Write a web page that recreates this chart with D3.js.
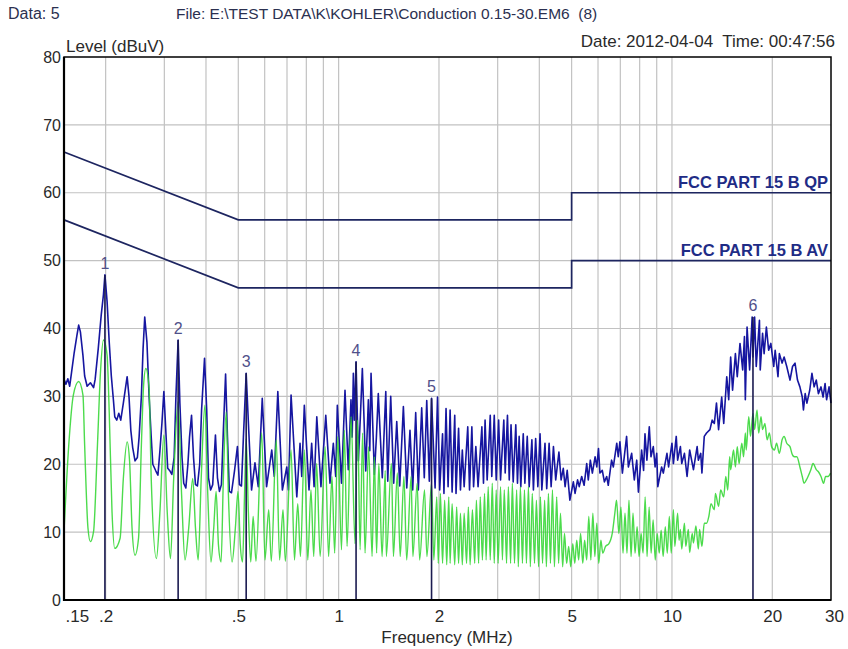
<!DOCTYPE html>
<html>
<head>
<meta charset="utf-8">
<script src="https://cdn.jsdelivr.net/npm/d3@7"></script>
<style>
	body { margin: 0; background: #fff; }
	svg { display: block; }
</style>
</head>
<body>
<div id="viz"></div>
<script>

//chart data
let levelTicks = [0, 10, 20, 30, 40, 50, 60, 70, 80]
let freqTicks = [0.15, 0.2, 0.5, 1, 2, 5, 10, 20, 30]
let freqTickLabels = ['.15', '.2', '.5', '1', '2', '5', '10', '20', '30']
let gridFreqs = [0.2, 0.3, 0.4, 0.5, 0.6, 0.7, 0.8, 0.9, 1, 2, 3, 4, 5, 6, 7, 8, 9, 10, 20]
let gridLevels = [10, 20, 30, 40, 50, 60, 70]

//limit lines [MHz, dBuV]
let qpLimit = [[0.15, 66], [0.5, 56], [5, 56], [5, 60], [30, 60]]
let avLimit = [[0.15, 56], [0.5, 46], [5, 46], [5, 50], [30, 50]]

//peak trace (blue) [MHz, dBuV]
let peakTrace = [
	[0.150,32.5],[0.152,31.8],[0.154,32.6],[0.156,31.5],[0.158,33.5],[0.161,36.5],[0.164,39.0],[0.166,40.5],[0.168,39.5],[0.171,36.0],
	[0.173,33.0],[0.176,31.5],[0.180,32.0],[0.184,31.3],[0.186,32.5],[0.190,37.0],[0.194,42.0],[0.197,45.0],[0.199,47.9],[0.202,44.0],
	[0.205,38.0],[0.208,33.0],[0.211,29.5],[0.213,27.0],[0.216,26.5],[0.219,27.5],[0.222,26.5],[0.226,29.0],[0.232,32.9],[0.235,30.0],
	[0.238,25.0],[0.241,22.5],[0.245,20.5],[0.249,21.0],[0.252,24.0],[0.256,30.0],[0.259,37.0],[0.262,41.7],[0.266,38.0],[0.270,30.0],
	[0.274,24.0],[0.277,20.0],[0.283,19.0],[0.287,18.4],[0.291,22.0],[0.295,26.0],[0.299,30.7],[0.303,25.0],[0.307,19.4],[0.312,19.0],
	[0.316,18.5],[0.321,21.0],[0.325,30.0],[0.330,38.3],[0.334,29.0],[0.339,21.0],[0.343,17.2],[0.348,16.5],[0.353,20.0],[0.357,24.0],
	[0.362,27.2],[0.367,21.0],[0.372,17.0],[0.377,16.8],[0.383,20.0],[0.388,28.0],[0.396,35.6],[0.402,28.0],[0.407,18.0],[0.413,16.2],
	[0.419,17.0],[0.427,24.3],[0.433,18.0],[0.439,16.0],[0.445,17.0],[0.451,25.0],[0.458,33.3],[0.464,24.0],[0.470,16.0],[0.477,15.8],
	[0.487,19.0],[0.497,22.6],[0.504,17.0],[0.511,16.8],[0.518,24.0],[0.528,33.4],
	[0.538,24.5],[0.548,16.2],[0.561,20.2],[0.574,16.7],[0.590,29.7],[0.608,16.7],[0.630,22.1],[0.641,18.2],[0.657,30.7],[0.678,16.2],
	[0.699,19.6],[0.707,16.2],[0.720,30.2],[0.749,15.2],[0.766,23.1],[0.775,18.2],[0.789,28.7],[0.815,16.2],[0.830,23.1],[0.844,16.7],
	[0.860,27.0],[0.885,16.7],[0.915,27.2],[0.942,17.2],[0.964,23.1],[0.980,18.2],[0.991,28.7],[1.02,17.2],[1.045,30.9],[1.069,19.2],
	[1.089,29.5],[1.098,24.0],[1.107,33.4],[1.115,26.5],[1.128,35.1],[1.146,20.5],[1.162,27.0],[1.178,34.1],[1.206,19.0],[1.228,29.5],
	[1.240,22.0],[1.251,33.4],[1.280,18.5],[1.298,24.0],[1.315,30.4],[1.352,18.0],[1.385,30.7],[1.404,17.5],[1.433,30.0],[1.463,17.2],
	[1.494,26.3],[1.525,16.8],[1.564,28.5],[1.601,16.5],[1.637,25.0],[1.668,16.2],[1.703,27.6],[1.734,16.2],[1.775,28.3],[1.807,18.0],
	[1.838,29.4],[1.871,17.5],[1.90,29.7],[1.947,16.5],
	[1.98,29.9],[2.01,16.2],[2.05,24.5],[2.07,15.7],[2.10,28.2],[2.13,16.7],[2.16,28.0],[2.19,15.9],[2.23,27.2],[2.25,15.7],
	[2.29,25.3],[2.32,16.2],[2.35,22.1],[2.38,16.7],[2.44,25.5],[2.47,16.2],[2.51,25.5],[2.54,16.7],[2.58,22.6],[2.62,16.7],
	[2.69,25.5],[2.72,17.2],[2.75,26.5],[2.79,17.7],[2.85,27.2],[2.88,18.2],[2.93,27.2],[2.97,17.7],[3.02,26.5],[3.06,17.7],
	[3.13,26.5],[3.16,18.7],[3.21,27.2],[3.25,17.7],[3.29,25.8],[3.34,17.4],[3.40,25.8],[3.44,17.2],[3.48,24.1],[3.52,16.7],
	[3.58,24.5],[3.62,17.2],[3.68,24.1],[3.73,16.7],[3.80,23.6],[3.84,16.2],[3.90,23.8],[3.96,16.7],[4.02,24.5],[4.07,16.2],
	[4.16,23.1],[4.21,16.4],[4.28,23.1],[4.34,16.7],[4.41,22.6],[4.48,17.7],[4.58,21.8],[4.65,17.7],[4.72,19.4],[4.78,16.7],
	[4.85,19.1],[4.94,14.7],[5.06,17.4],[5.12,15.7],[5.21,17.7],[5.27,16.7],[5.36,18.2],[5.45,16.9],[5.55,20.1],[5.61,17.7],
	[5.69,20.6],[5.77,18.7],[5.88,21.1],[5.95,19.6],[6.02,22.3],[6.08,18.7],[6.18,19.1],[6.27,17.4],[6.37,18.2],[6.44,16.9],
	[6.59,20.6],[6.67,19.6],[6.83,23.1],[6.90,21.1],[6.98,23.3],[7.10,18.7],[7.31,24.1],[7.40,19.6],[7.57,21.6],[7.71,17.7],
	[7.84,20.6],[7.93,15.9],[8.11,22.1],[8.22,19.1],[8.30,24.5],[8.41,20.6],[8.55,25.5],[8.65,21.1],[8.79,22.6],[8.90,19.6],
	[9.00,21.6],[9.07,16.7],[9.31,19.6],[9.42,18.7],[9.66,21.6],[9.77,19.6],[10.0,23.1],[10.1,20.1],[10.3,24.1],[10.4,20.6],
	[10.6,22.6],[10.7,20.1],[10.9,21.6],[11.1,18.2],[11.3,22.1],[11.6,19.2],[11.9,22.6],[12.0,20.6],[12.2,21.6],[12.3,18.7],
	[12.5,24.1],[12.7,24.6],[13.0,25.1],[13.2,26.5],[13.4,26.0],[13.6,29.0],[13.8,25.1],[14.1,29.9],[14.3,26.0],[14.6,32.9],
	[14.8,29.5],[15.0,35.8],[15.2,30.9],[15.5,36.3],[15.7,32.9],[16.0,37.8],[16.3,33.9],[16.5,38.8],[16.6,29.5],[16.8,40.2],
	[17.1,33.9],[17.4,41.7],[17.5,35.8],[17.7,41.7],[17.9,34.4],[18.3,41.2],[18.4,33.9],[18.7,39.3],[18.9,36.3],[19.2,40.2],
	[19.5,36.8],[19.8,37.8],[20.2,34.4],[20.4,36.8],[20.8,32.9],[21.0,36.3],[21.4,34.9],[21.7,35.8],[22.1,34.4],[22.6,32.4],
	[23.0,34.4],[23.4,34.9],[23.8,32.4],[24.2,31.4],[24.6,29.9],[24.8,28.0],[25.1,30.4],[25.4,29.0],[25.9,30.9],[26.3,33.4],
	[26.7,31.4],[27.1,32.4],[27.5,30.4],[28.0,31.4],[28.4,29.9],[28.8,31.9],[29.1,29.5],[29.6,31.4],[30.0,29.0]
]

//average trace (green) [MHz, dBuV]
let avgTrace = [
	[0.150,10.1],[0.155,22.8],[0.160,30.2],[0.166,32.2],[0.171,30.2],[0.173,22.8],[0.177,10.6],[0.180,8.6],[0.184,10.1],[0.189,22.8],
	[0.193,33.6],[0.197,38.3],[0.202,36.1],[0.205,27.7],[0.209,13.0],[0.213,7.6],[0.221,9.1],[0.226,17.9],[0.232,23.3],[0.236,20.4],
	[0.240,10.6],[0.245,6.6],[0.251,9.1],[0.256,22.8],[0.260,31.7],[0.264,34.1],[0.270,31.2],[0.274,17.9],[0.284,6.1],[0.291,13.0],
	[0.299,24.3],[0.306,13.0],[0.313,6.1],[0.320,17.9],[0.330,29.2],[0.338,15.5],[0.346,5.9],[0.355,10.6],[0.365,17.9],[0.372,10.6],
	[0.379,5.9],[0.387,17.9],[0.397,28.7],[0.405,15.5],[0.414,5.6],[0.422,10.6],[0.429,16.0],[0.436,8.1],[0.444,5.6],[0.451,17.9],
	[0.460,27.7],[0.467,15.5],[0.479,5.6],[0.490,10.6],[0.499,16.0],[0.507,8.1],[0.515,5.6],[0.522,15.5],[0.528,23.8],[0.536,13.0],
	[0.545,5.6],
	[0.554,12.3],[0.565,5.7],[0.588,24.6],[0.601,5.9],[0.617,13.3],[0.628,5.7],[0.650,23.6],[0.665,5.9],[0.681,13.3],[0.692,5.7],
	[0.720,22.1],[0.737,5.9],[0.754,14.2],[0.768,6.4],[0.789,22.1],[0.808,5.9],[0.826,16.2],[0.842,6.4],[0.859,20.1],[0.880,6.4],
	[0.911,22.6],[0.933,6.4],[0.955,18.2],[0.973,6.9],[0.994,24.1],[1.02,7.4],[1.04,25.0],[1.06,7.9],[1.09,27.0],[1.12,8.3],
	[1.14,26.5],[1.16,7.4],[1.18,24.6],[1.20,6.9],[1.23,22.6],[1.26,6.4],[1.28,21.1],[1.30,6.9],[1.32,20.1],[1.35,6.4],
	[1.38,19.1],[1.39,6.4],[1.44,20.1],[1.46,6.4],[1.50,18.7],[1.53,6.4],[1.57,18.2],[1.60,5.9],[1.65,18.2],[1.67,6.4],
	[1.72,17.2],[1.75,5.9],[1.81,16.2],[1.84,6.4],[1.90,17.2],[1.93,5.9],
	[1.97,15.2],[1.99,5.4],[2.02,15.7],[2.05,5.4],[2.08,14.7],[2.11,5.2],[2.14,15.2],[2.16,5.4],[2.19,14.2],[2.23,5.2],
	[2.26,13.7],[2.29,5.4],[2.32,12.8],[2.35,5.2],[2.38,12.8],[2.42,5.4],[2.45,13.7],[2.48,5.2],[2.52,13.3],[2.56,5.4],
	[2.59,14.7],[2.63,5.4],[2.66,15.2],[2.70,5.9],[2.74,15.7],[2.77,5.9],[2.81,16.7],[2.85,5.9],[2.89,17.2],[2.93,5.4],
	[2.97,16.2],[3.01,5.4],[3.06,16.7],[3.10,5.9],[3.14,16.2],[3.19,5.4],[3.23,16.7],[3.28,5.4],[3.32,17.2],[3.37,5.4],
	[3.42,16.2],[3.46,4.9],[3.51,16.7],[3.56,5.4],[3.61,16.2],[3.66,5.4],[3.71,16.7],[3.76,4.9],[3.81,15.7],[3.87,5.4],
	[3.92,14.7],[3.98,4.9],[4.03,15.2],[4.09,5.4],[4.15,14.7],[4.20,4.9],[4.26,15.7],[4.32,5.4],[4.38,16.2],[4.44,4.9],
	[4.51,15.2],[4.57,5.4],[4.63,12.8],[4.70,4.9],[4.76,9.8],[4.83,5.4],[4.90,7.9],[4.97,4.9],[5.04,8.3],[5.11,5.4],
	[5.18,8.8],[5.25,5.9],[5.32,9.8],[5.40,5.4],[5.47,8.8],[5.55,5.9],[5.63,12.3],[5.71,5.9],[5.79,12.8],[5.87,6.4],
	[5.95,11.3],[6.03,5.4],[6.12,8.8],[6.20,6.9],[6.32,7.9],[6.47,8.3],[6.62,9.8],[6.74,12.8],[6.82,14.7],[6.93,9.8],
	[7.03,13.7],[7.13,6.9],[7.23,12.8],[7.33,6.9],[7.43,14.7],[7.54,6.4],[7.64,12.8],[7.75,6.9],[7.86,10.8],[7.97,6.4],
	[8.08,9.8],[8.19,6.9],[8.31,15.2],[8.42,6.4],[8.54,13.7],[8.66,6.9],[8.78,11.8],[8.91,5.9],[9.03,9.8],[9.16,6.9],
	[9.28,10.3],[9.41,6.4],[9.55,10.8],[9.68,6.9],[9.82,12.3],[9.95,6.9],[10.1,13.3],[10.2,7.9],[10.4,12.8],[10.5,8.8],
	[10.6,10.4],[10.7,7.5],[10.9,11.3],[11.0,7.9],[11.2,10.4],[11.3,7.0],[11.5,9.8],[11.6,8.4],[11.8,10.9],[12.0,7.5],
	[12.1,10.4],[12.3,7.9],[12.5,11.3],[12.7,11.3],[12.9,12.3],[13.1,14.2],[13.4,13.3],[13.5,15.7],[13.8,13.8],[14.0,16.2],
	[14.3,15.2],[14.5,18.2],[14.7,16.2],[14.9,21.1],[15.0,19.2],[15.3,22.1],[15.5,19.6],[15.7,22.6],[15.9,20.1],[16.2,23.1],
	[16.4,21.1],[16.6,24.6],[16.7,22.1],[17.0,27.0],[17.2,24.1],[17.5,27.5],[17.7,25.1],[18.0,28.0],[18.2,24.6],[18.5,27.0],
	[18.7,25.1],[19.0,26.0],[19.3,23.6],[19.6,24.6],[19.9,22.6],[20.3,22.1],[20.6,23.1],[21.0,21.6],[21.4,23.6],[21.7,24.1],
	[22.1,23.1],[22.6,22.6],[22.9,21.6],[23.3,21.1],[23.7,21.1],[24.2,19.6],[24.6,18.2],[24.9,17.2],[25.3,17.7],[25.6,18.2],
	[26.1,19.2],[26.5,20.1],[27.1,19.2],[27.5,18.9],[28.0,18.2],[28.5,17.2],[28.9,18.2],[29.4,18.2],[29.9,18.7]
]

//marked peaks [MHz, dBuV]
let markers = [[0.199, 47.9], [0.330, 38.3], [0.528, 33.4], [1.128, 35.1], [1.90, 29.7], [17.5, 41.7]]

let limitNames = ['FCC PART 15 B QP', 'FCC PART 15 B AV']

//sizes
let width = 848
let height = 649
let margin = {top: 57, right: 17, bottom: 49, left: 64}
let font = "'Liberation Sans', Arial, sans-serif"

let svg = d3.select('#viz')
			.append('svg')
			.attr('width', width)
			.attr('height', height)
			.style('font-family', font)

let x = d3.scaleLog()
			.domain([0.15, 30])
			.range([margin.left, width - margin.right])

let y = d3.scaleLinear()
			.domain([0, 80])
			.range([height - margin.bottom, margin.top])

//grid
svg.append('g')
	.selectAll('line')
	.data(gridFreqs)
	.enter()
	.append('line')
	.attr('x1', d => x(d))
	.attr('x2', d => x(d))
	.attr('y1', y(0))
	.attr('y2', y(80))
	.attr('stroke', '#c2c2c2')
	.attr('stroke-width', 1.2)

svg.append('g')
	.selectAll('line')
	.data(gridLevels)
	.enter()
	.append('line')
	.attr('x1', x(0.15))
	.attr('x2', x(30))
	.attr('y1', d => y(d))
	.attr('y2', d => y(d))
	.attr('stroke', '#c2c2c2')
	.attr('stroke-width', 1.2)

let line = d3.line()
			.x(d => x(d[0]))
			.y(d => y(d[1]))

//limit lines
svg.append('g')
	.selectAll('path')
	.data([qpLimit, avLimit])
	.enter()
	.append('path')
	.attr('d', line)
	.attr('fill', 'none')
	.attr('stroke', '#1d2560')
	.attr('stroke-width', 1.7)

//traces
svg.append('path')
	.datum(peakTrace)
	.attr('d', line)
	.attr('fill', 'none')
	.attr('stroke', '#1616a0')
	.attr('stroke-width', 1.6)
	.attr('stroke-linejoin', 'round')

svg.append('path')
	.datum(avgTrace)
	.attr('d', line.curve(d3.curveMonotoneX))
	.attr('fill', 'none')
	.attr('stroke', '#33d633')
	.attr('stroke-width', 1.4)
	.attr('opacity', 0.88)

line.curve(d3.curveLinear)

//marker lines and numbers
svg.append('g')
	.selectAll('line')
	.data(markers)
	.enter()
	.append('line')
	.attr('x1', d => x(d[0]))
	.attr('x2', d => x(d[0]))
	.attr('y1', y(0))
	.attr('y2', d => y(d[1]))
	.attr('stroke', '#1b1b50')
	.attr('stroke-width', 1.6)

svg.append('g')
	.selectAll('text')
	.data(markers)
	.enter()
	.append('text')
	.attr('x', d => x(d[0]))
	.attr('y', d => y(d[1]) - 6)
	.attr('text-anchor', 'middle')
	.attr('font-size', 16)
	.attr('fill', '#50508a')
	.text((d, i) => i + 1)

//limit labels
svg.append('g')
	.selectAll('text')
	.data([qpLimit, avLimit])
	.enter()
	.append('text')
	.attr('x', x(30) - 3)
	.attr('y', d => y(d[d.length - 1][1]) - 5)
	.attr('text-anchor', 'end')
	.attr('font-size', 16.5)
	.attr('font-weight', 'bold')
	.attr('fill', '#1f2c86')
	.text((d, i) => limitNames[i])

//frame
svg.append('rect')
	.attr('x', x(0.15))
	.attr('y', y(80))
	.attr('width', x(30) - x(0.15))
	.attr('height', y(0) - y(80))
	.attr('fill', 'none')
	.attr('stroke', '#000')
	.attr('stroke-width', 1.5)

svg.append('path')
	.attr('d', `M${x(0.15)},${y(80)}V${y(0)}H${x(30)}`)
	.attr('fill', 'none')
	.attr('stroke', '#000')
	.attr('stroke-width', 2.2)

//axes
let yAxis = svg.append('g')
				.attr('transform', `translate(${x(0.15)},0)`)
				.call(d3.axisLeft(y).tickValues(levelTicks).tickSize(0).tickPadding(3))
yAxis.select('.domain').remove()
yAxis.attr('font-size', 16).attr('font-family', font)
yAxis.selectAll('text').attr('fill', '#2a2a2a')

let xAxis = svg.append('g')
				.attr('transform', `translate(0,${y(0)})`)
				.call(d3.axisBottom(x).tickValues(freqTicks).tickFormat((d, i) => freqTickLabels[i]).tickSize(0).tickPadding(10))
xAxis.select('.domain').remove()
xAxis.attr('font-size', 17).attr('font-family', font)
xAxis.selectAll('text')
	.attr('fill', '#2a2a2a')
	.attr('text-anchor', (d, i) => i === 0 ? 'start' : 'middle')
	.attr('dx', (d, i) => i === 0 ? 1 : i === freqTicks.length - 1 ? 3 : 0)

//titles
svg.append('text')
	.attr('x', 8)
	.attr('y', 19)
	.attr('font-size', 16)
	.attr('fill', '#2b3050')
	.text('Data: 5')

svg.append('text')
	.attr('x', 176)
	.attr('y', 19)
	.attr('font-size', 15.5)
	.attr('fill', '#2b3050')
	.style('white-space', 'pre')
	.text('File: E:\\TEST DATA\\K\\KOHLER\\Conduction 0.15-30.EM6  (8)')

svg.append('text')
	.attr('x', 66)
	.attr('y', 52)
	.attr('font-size', 17)
	.attr('fill', '#2a2a2a')
	.text('Level (dBuV)')

svg.append('text')
	.attr('x', 835)
	.attr('y', 47)
	.attr('text-anchor', 'end')
	.attr('font-size', 17)
	.attr('fill', '#2a2a2a')
	.style('white-space', 'pre')
	.text('Date: 2012-04-04  Time: 00:47:56')

svg.append('text')
	.attr('x', 447)
	.attr('y', 643)
	.attr('text-anchor', 'middle')
	.attr('font-size', 17)
	.attr('fill', '#2a2a2a')
	.text('Frequency (MHz)')

</script>
</body>
</html>
